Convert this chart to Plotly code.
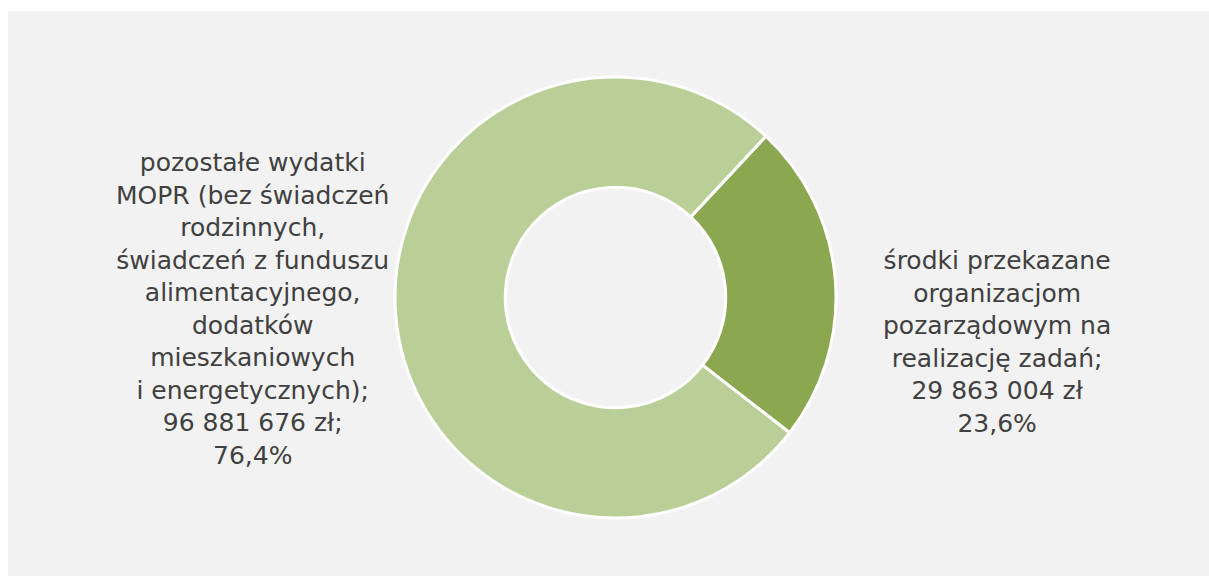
import plotly.graph_objects as go

# slice data (Polish labels kept as in the source, pre-wrapped)
labels = [
    "środki przekazane<br>organizacjom<br>pozarządowym na<br>realizację zadań;",
    "pozostałe wydatki<br>MOPR (bez świadczeń<br>rodzinnych,<br>świadczeń z funduszu<br>alimentacyjnego,<br>dodatków<br>mieszkaniowych<br>i energetycznych);",
]
values = [29863004, 96881676]
value_suffix = [" zł", " zł;"]
colors = ["#8BA74F", "#BACF98"]

TEXT_COLOR = "#404040"
FONT = "DejaVu Sans"


def fmt_pln(v):
    return f"{v:,}".replace(",", " ")


def fmt_pct(v, total):
    return f"{v / total * 100:.1f}".replace(".", ",") + "%"


total = sum(values)
label_texts = [
    f"{lab}<br>{fmt_pln(v)}{suf}<br>{fmt_pct(v, total)}"
    for lab, v, suf in zip(labels, values, value_suffix)
]

fig = go.Figure(
    go.Pie(
        labels=labels,
        values=values,
        hole=0.5,
        sort=False,
        direction="clockwise",
        rotation=43,
        marker=dict(colors=colors, line=dict(color="white", width=3)),
        textinfo="none",
        hoverinfo="label+value+percent",
        showlegend=False,
        domain=dict(x=[0.3267, 0.6915], y=[0.1007, 0.8663]),
    )
)

# grey chart area
fig.add_shape(
    type="rect", xref="paper", yref="paper",
    x0=8 / 1209, x1=1, y0=0, y1=1 - 11 / 576,
    fillcolor="#F2F2F2", line_width=0, layer="below",
)

# data labels placed like the original (right slice first, then left)
label_pos = [(997 / 1209, 1 - 342 / 576), (252 / 1209, 1 - 309 / 576)]
for txt, (px, py) in zip(label_texts, label_pos):
    fig.add_annotation(
        x=px, y=py, xref="paper", yref="paper",
        text=txt, showarrow=False, align="center",
        xanchor="center", yanchor="middle",
        font=dict(family=FONT, size=25, color=TEXT_COLOR),
    )

fig.update_layout(
    width=1209,
    height=576,
    margin=dict(l=0, r=0, t=0, b=0),
    paper_bgcolor="white",
    plot_bgcolor="white",
    font=dict(family=FONT, color=TEXT_COLOR),
)

# drop the default page margin so the figure sits flush in the window
fig.write_html(
    "out.html",
    config={"displayModeBar": False},
    post_script="document.body.style.margin='0';document.body.style.overflow='hidden';",
)
